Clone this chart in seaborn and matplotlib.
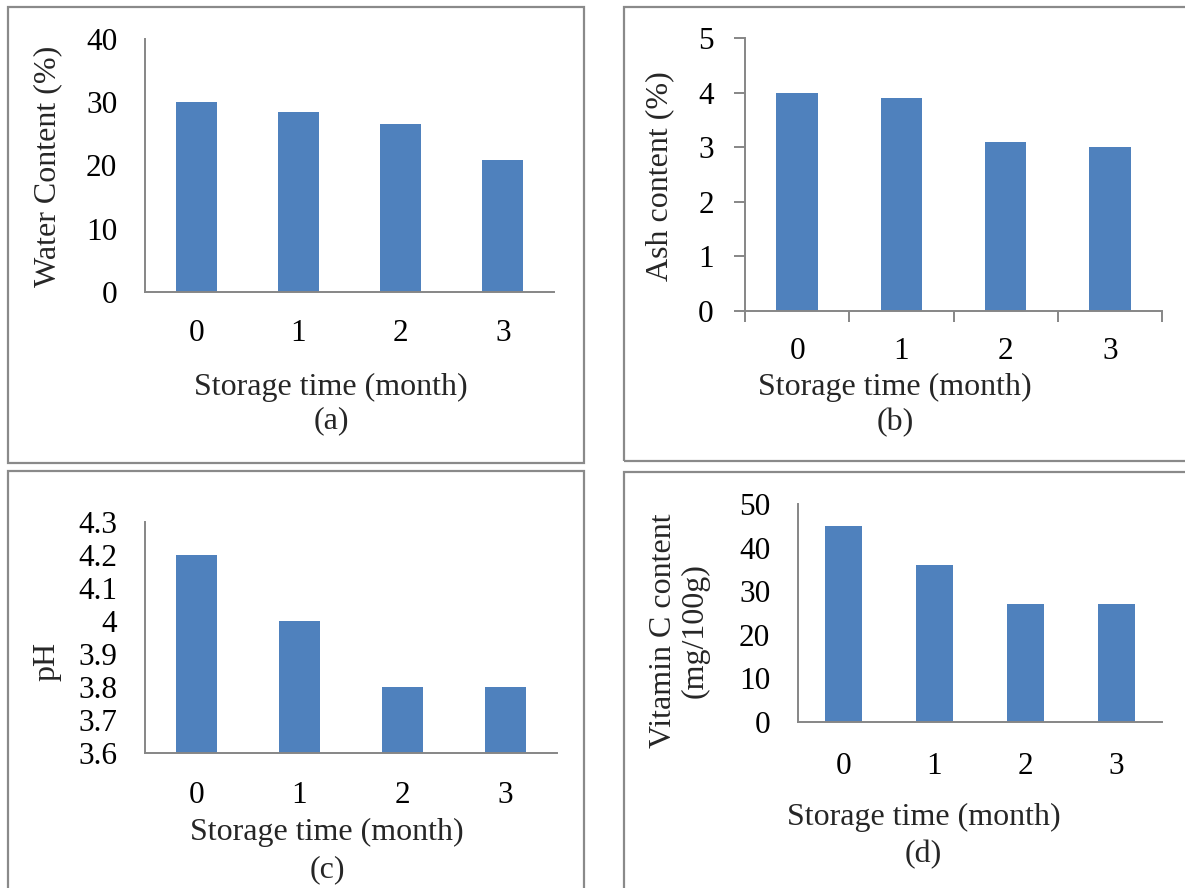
import matplotlib
matplotlib.use("Agg")
import matplotlib.pyplot as plt
from matplotlib.patches import Rectangle
from matplotlib.ticker import MultipleLocator, FuncFormatter
import seaborn as sns

# ------------------------------------------------
# data
# ------------------------------------------------
months = ["0", "1", "2", "3"]
water_content = [30.0, 28.5, 26.6, 20.9]
ash_content = [4.0, 3.9, 3.1, 3.0]
ph_values = [4.2, 4.0, 3.8, 3.8]
vitamin_c = [45, 36, 27, 27]

xlabel_text = "Storage time (month)"
ylabels = ["Water Content (%)", "Ash content (%)", "pH", "Vitamin C content\n(mg/100g)"]
captions = ["(a)", "(b)", "(c)", "(d)"]

BAR_COLOR = "#4F81BD"
AXIS_GRAY = "#868686"
BOX_GRAY = "#8a8a8a"

sns.set_theme(style="white")
plt.rcParams["font.family"] = ["Liberation Serif", "DejaVu Serif"]

W, H = 1185, 888
fig = plt.figure(figsize=(W / 100, H / 100), dpi=100)


def rect_px(left, top, right, bottom):
    return [left / W, 1 - bottom / H, (right - left) / W, (bottom - top) / H]


# panel frames (left, top, right, bottom in pixels)
frames = [(8, 7, 584, 463), (624, 7, 1200, 461), (8, 471, 584, 900), (624, 472, 1200, 900)]
for l, t, r, b in frames:
    fig.patches.append(Rectangle((l / W, 1 - b / H), (r - l) / W, (b - t) / H,
                                 transform=fig.transFigure, fill=False,
                                 edgecolor=BOX_GRAY, linewidth=1.6))

# axes boxes in pixels
axes_px = [(145, 39, 554, 292), (745, 38, 1162, 311), (145, 522, 557, 753), (798, 504, 1162, 722)]
series = [water_content, ash_content, ph_values, vitamin_c]
ylims = [(0, 40), (0, 5), (3.6, 4.3), (0, 50)]
ysteps = [10, 1, 0.1, 10]
xpads = [19.5, 19, 20.5, 21.5]
ypads = [20, 14.5, 20, 20]
ylabel_pos = [(48, 166), (660, 176), (47, 661), (679, 631)]
xlabel_pos = [(331, 387), (895, 387), (327, 832), (924, 817)]
caption_pos = [(331, 421), (895, 423), (327, 870), (923, 855)]

for i in range(4):
    l, t, r, b = axes_px[i]
    ax = fig.add_axes(rect_px(l, t, r, b))
    sns.barplot(x=months, y=series[i], ax=ax, color=BAR_COLOR, width=0.4,
                saturation=1, linewidth=0)
    ax.set_xlim(-0.5, 3.5)
    ax.set_ylim(*ylims[i])
    ax.yaxis.set_major_locator(MultipleLocator(ysteps[i]))
    ax.yaxis.set_major_formatter(FuncFormatter(lambda v, p: f"{round(v, 1):g}"))

    for side in ["top", "right"]:
        ax.spines[side].set_visible(False)
    for side in ["left", "bottom"]:
        ax.spines[side].set_color(AXIS_GRAY)
        ax.spines[side].set_linewidth(1.4)

    ax.tick_params(axis="x", which="major", bottom=True, length=0, labelsize=22.5,
                   pad=xpads[i], colors="black")
    ax.tick_params(axis="y", which="major", left=(i == 1), length=8 if i == 1 else 0,
                   width=1.4, color=AXIS_GRAY, labelsize=22.5, pad=ypads[i], labelcolor="black")
    if i == 1:
        ax.set_xticks([-0.5, 0.5, 1.5, 2.5, 3.5], minor=True)
        ax.tick_params(axis="x", which="minor", bottom=True, length=8, width=1.4,
                       color=AXIS_GRAY, direction="out")

    # axis titles placed where the reference has them
    ax.set_xlabel(xlabel_text, fontsize=23, va="center", ha="center")
    cx, cy = xlabel_pos[i]
    ax.xaxis.set_label_coords((cx - l) / (r - l), (b - cy) / (b - t))
    ax.set_ylabel(ylabels[i], fontsize=23, va="center", ha="center", linespacing=1.12)
    cx, cy = ylabel_pos[i]
    ax.yaxis.set_label_coords((cx - l) / (r - l), (b - cy) / (b - t))

    cx, cy = caption_pos[i]
    fig.text(cx / W, 1 - cy / H, captions[i], fontsize=23, ha="center", va="center")

fig.savefig("out.png", dpi=100)
